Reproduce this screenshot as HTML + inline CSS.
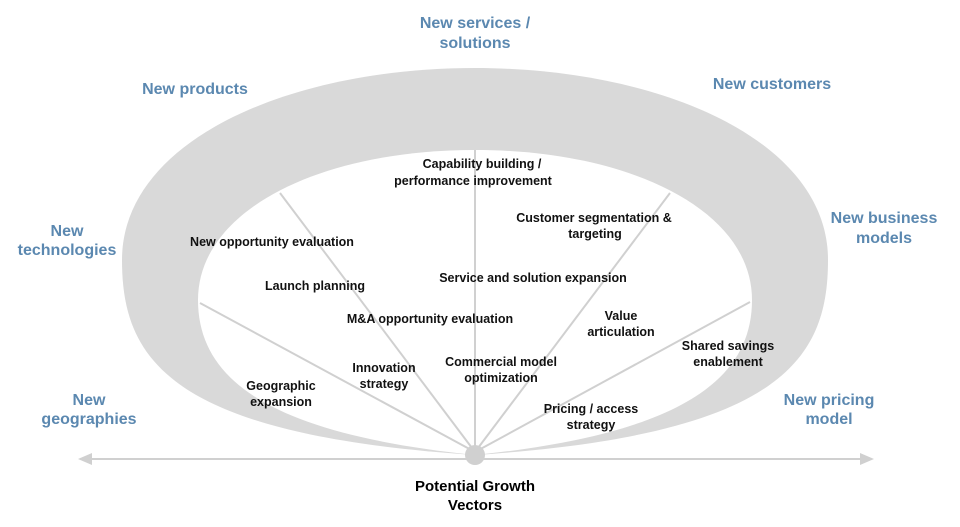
<!DOCTYPE html>
<html><head><meta charset="utf-8"><style>
body{margin:0;background:#fff;}
svg{display:block;}
text{font-family:"Liberation Sans",Arial,sans-serif;font-weight:bold;}
.b{fill:#5b88b0;font-size:16px;}
.k{fill:#111;font-size:12.5px;}
</style></head><body>
<svg width="960" height="527" viewBox="0 0 960 527">
<path d="M475,455 C170,435 122,360 122,260 C122,140 290,68 475,68 C660,68 828,140 828,260 C828,360 780,435 475,455Z" fill="#d9d9d9"/>
<path d="M475,455 C280,435 198,385 198,300 C198,210 320,150 475,150 C630,150 752,210 752,300 C752,385 670,435 475,455Z" fill="#fff"/>
<g stroke="#d0d0d0" stroke-width="2" fill="none">
<line x1="475" y1="452" x2="475" y2="150"/>
<line x1="475" y1="452" x2="280" y2="193"/>
<line x1="475" y1="452" x2="200" y2="303"/>
<line x1="475" y1="452" x2="670" y2="193"/>
<line x1="475" y1="452" x2="750" y2="302"/>
<line x1="84" y1="459" x2="866" y2="459"/>
</g>
<polygon points="78,459 92,453 92,465" fill="#d0d0d0"/>
<polygon points="874,459 860,453 860,465" fill="#d0d0d0"/>
<circle cx="475" cy="455" r="10" fill="#d0d0d0"/>
<g class="b" text-anchor="middle">
<text x="475" y="28">New services /</text><text x="475" y="48">solutions</text>
<text x="195" y="94">New products</text>
<text x="772" y="89">New customers</text>
<text x="67" y="236">New</text><text x="67" y="255">technologies</text>
<text x="884" y="223">New business</text><text x="884" y="243">models</text>
<text x="89" y="405">New</text><text x="89" y="424">geographies</text>
<text x="829" y="405">New pricing</text><text x="829" y="424">model</text>
</g>
<g class="k" text-anchor="middle">
<text x="482" y="168">Capability building /</text><text x="473" y="185">performance improvement</text>
<text x="594" y="222">Customer segmentation &amp;</text><text x="595" y="238">targeting</text>
<text x="272" y="246">New opportunity  evaluation</text>
<text x="315" y="290">Launch planning</text>
<text x="533" y="282">Service and solution  expansion</text>
<text x="430" y="323">M&amp;A opportunity  evaluation</text>
<text x="621" y="320">Value</text><text x="621" y="336">articulation</text>
<text x="728" y="350">Shared savings</text><text x="728" y="366">enablement</text>
<text x="384" y="372">Innovation</text><text x="384" y="388">strategy</text>
<text x="501" y="366">Commercial model</text><text x="501" y="382">optimization</text>
<text x="281" y="390">Geographic</text><text x="281" y="406">expansion</text>
<text x="591" y="413">Pricing / access</text><text x="591" y="429">strategy</text>
</g>
<g text-anchor="middle" fill="#000" style="font-size:15px">
<text x="475" y="491">Potential Growth</text><text x="475" y="510">Vectors</text>
</g>
</svg>
</body></html>
